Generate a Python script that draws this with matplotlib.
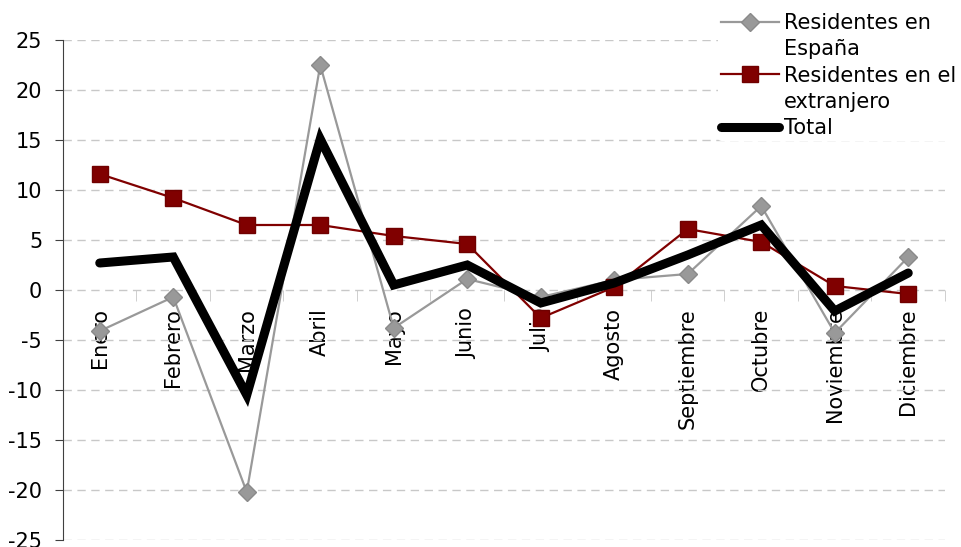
import numpy as np
import matplotlib.pyplot as plt
from matplotlib.lines import Line2D
from matplotlib.ticker import MultipleLocator

meses = ['Enero', 'Febrero', 'Marzo', 'Abril', 'Mayo', 'Junio', 'Julio',
         'Agosto', 'Septiembre', 'Octubre', 'Noviembre', 'Diciembre']
espana = [-4.1, -0.7, -20.2, 22.5, -3.8, 1.1, -0.7, 1.0, 1.6, 8.4, -4.3, 3.3]
extranjero = [11.6, 9.2, 6.5, 6.5, 5.4, 4.6, -2.8, 0.3, 6.1, 4.8, 0.4, -0.4]
total = [2.7, 3.3, -10.5, 15.1, 0.5, 2.5, -1.3, 0.7, 3.5, 6.5, -2.1, 1.7]

plt.rcParams['font.family'] = ['DejaVu Sans']
plt.rcParams['axes.unicode_minus'] = False

fig = plt.figure(figsize=(9.62, 5.47), dpi=100)
ax = fig.add_axes([63 / 962, 1 - 540 / 547, 882 / 962, 500 / 547])

x = np.arange(len(meses))
l1, = ax.plot(x, espana, color='#999999', lw=1.6, marker='D', markersize=9,
              markerfacecolor='#999999', markeredgecolor='#8a8a8a', zorder=3)
l2, = ax.plot(x, extranjero, color='#800000', lw=1.6, marker='s', markersize=12,
              markerfacecolor='#800000', markeredgecolor='#700000', zorder=4)
l3, = ax.plot(x, total, color='black', lw=6.5, solid_capstyle='round',
              solid_joinstyle='miter', zorder=5)

ax.set_xlim(-0.5, 11.5)
ax.set_ylim(-25, 25)
ax.yaxis.set_major_locator(MultipleLocator(5))
ax.yaxis.grid(True, color='#c8c8c8', linestyle=(0, (6, 4)), lw=1)
ax.set_axisbelow(True)

for s in ['top', 'right']:
    ax.spines[s].set_visible(False)
ax.spines['left'].set_color('#404040')
ax.spines['bottom'].set_position(('data', 0))
ax.spines['bottom'].set_visible(False)

ax.set_xticks(x)
ax.set_xticklabels(meses, rotation=90, va='top', ha='center')
ax.set_xticks(np.arange(-0.5, 12, 1), minor=True)
ax.tick_params(axis='x', which='major', length=0, pad=13, labelsize=15)
ax.tick_params(axis='x', which='minor', length=8, color='#c8c8c8', direction='out')
ax.tick_params(axis='y', length=6, color='#404040', labelsize=15, pad=9)

# second lines of the two long labels get an empty handle
blank = Line2D([], [], color='none')
leg = fig.legend([l1, blank, l2, blank, l3],
                 ['Residentes en', 'España', 'Residentes en el', 'extranjero', 'Total'],
                 loc='upper left', bbox_to_anchor=(718 / 962, 1 - 10 / 547),
                 frameon=True, fontsize=15, handlelength=2.8, handletextpad=0.2,
                 labelspacing=0.3, borderpad=0.15, borderaxespad=0)
leg.get_frame().set_facecolor('white')
leg.get_frame().set_edgecolor('none')
leg.get_frame().set_alpha(1)

fig.savefig('out.png', dpi=100)
